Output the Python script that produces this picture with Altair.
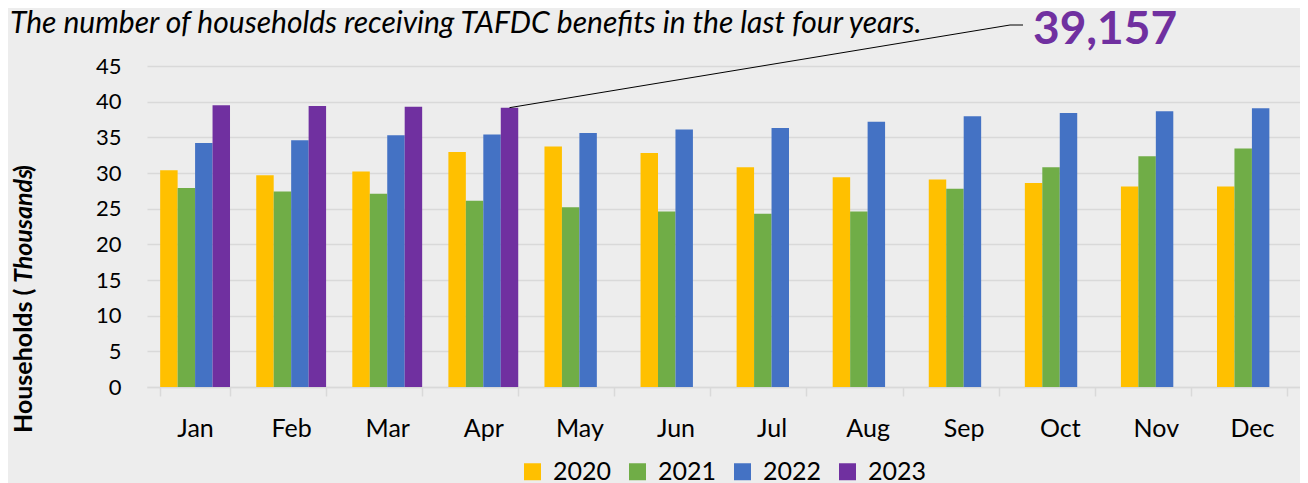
import altair as alt
import pandas as pd

months = ["Jan", "Feb", "Mar", "Apr", "May", "Jun", "Jul", "Aug", "Sep", "Oct", "Nov", "Dec"]
years = ["2020", "2021", "2022", "2023"]
colors = ["#FFC000", "#70AD47", "#4472C4", "#7030A0"]

v2020 = [30.4, 29.7, 30.2, 32.95, 33.7, 32.8, 30.8, 29.4, 29.1, 28.6, 28.1, 28.1]
v2021 = [27.9, 27.4, 27.1, 26.1, 25.2, 24.6, 24.3, 24.6, 27.8, 30.8, 32.35, 33.45]
v2022 = [34.2, 34.6, 35.3, 35.4, 35.6, 36.1, 36.3, 37.2, 37.95, 38.4, 38.65, 39.07]
v2023 = [39.5, 39.4, 39.3, 39.157, None, None, None, None, None, None, None, None]

title_text = "The number of households receiving TAFDC benefits in the last four years."
callout_text = "39,157"
callout_month = "Apr"
callout_year = "2023"
callout_value = 39.157
y_ticks = [0, 5, 10, 15, 20, 25, 30, 35, 40, 45]

rows = []
for yr, vals in zip(years, [v2020, v2021, v2022, v2023]):
    for m, v in zip(months, vals):
        if v is not None:
            rows.append({"month": m, "year": yr, "value": v})
df = pd.DataFrame(rows)

FONT = "Lato"
GRID = "#D9D9D9"

x_enc = alt.X("month:N", sort=months,
              scale=alt.Scale(domain=months, paddingInner=0.273, paddingOuter=0.137),
              axis=alt.Axis(title=None, labelAngle=0, labelFontSize=25, labelFont=FONT,
                            labelColor="black", labelPadding=20, tickBand="extent",
                            ticks=True, tickSize=9, tickColor=GRID, tickWidth=1.5,
                            domainColor=GRID, domainWidth=1.5, grid=False))
xo_enc = alt.XOffset("year:N", scale=alt.Scale(domain=years, paddingInner=0, paddingOuter=0))
y_enc = alt.Y("value:Q", scale=alt.Scale(domain=[0, 45], nice=False),
              axis=alt.Axis(title=None, values=y_ticks, labelFontSize=22,
                            labelFont=FONT, labelColor="black", labelPadding=26, labelOverlap=False,
                            domain=False, ticks=False, gridColor=GRID, gridWidth=1.5))

bars = alt.Chart(df).mark_bar().encode(
    x=x_enc, xOffset=xo_enc, y=y_enc,
    color=alt.Color("year:N", scale=alt.Scale(domain=years, range=colors),
                    legend=alt.Legend(orient="none", legendX=373, legendY=393, direction="horizontal",
                                      title=None, symbolType="square", symbolSize=289,
                                      symbolStrokeWidth=0, labelFontSize=25, labelFont=FONT,
                                      labelColor="black", labelOffset=8, columnPadding=13,
                                      padding=0, symbolOpacity=1)),
)

# callout leader line from the Apr 2023 bar top
lead_df = pd.DataFrame({"month": [callout_month], "year": [callout_year], "value": [callout_value]})
leader = alt.Chart(lead_df).mark_rule(color="black", strokeWidth=1).encode(
    x=x_enc, xOffset=xo_enc, y=y_enc,
    x2=alt.value(863),
    y2=alt.value(-41),
)
leader2 = alt.Chart(pd.DataFrame({"a": [0]})).mark_rule(color="black", strokeWidth=1).encode(
    x=alt.value(863), x2=alt.value(876), y=alt.value(-41),
)
callout = alt.Chart(pd.DataFrame({"t": [callout_text]})).mark_text(
    font=FONT, fontSize=46, fontWeight="bold", color="#7030A0", align="left", baseline="alphabetic"
).encode(x=alt.value(886), y=alt.value(-22), text="t:N")

title = alt.Chart(pd.DataFrame({"t": [title_text]})).mark_text(
    font=FONT, fontSize=30, fontStyle="italic", color="black", align="left", baseline="alphabetic"
).encode(x=alt.value(-137), y=alt.value(-33), text="t:N")

yt1 = alt.Chart(pd.DataFrame({"t": ["Households ("]})).mark_text(
    font=FONT, fontSize=25, fontWeight="bold", color="black", align="left", baseline="middle", angle=270
).encode(x=alt.value(-123), y=alt.value(367), text="t:N")
yt2 = alt.Chart(pd.DataFrame({"t": ["Thousands"]})).mark_text(
    font=FONT, fontSize=25, fontWeight="bold", fontStyle="italic", color="black", align="left",
    baseline="middle", angle=270
).encode(x=alt.value(-123), y=alt.value(217), text="t:N")
yt3 = alt.Chart(pd.DataFrame({"t": [")"]})).mark_text(
    font=FONT, fontSize=25, fontWeight="bold", color="black", align="left", baseline="middle", angle=270
).encode(x=alt.value(-123), y=alt.value(106), text="t:N")

chart = alt.layer(bars, leader, leader2, callout, title, yt1, yt2, yt3).properties(
    width=1153, height=321,
    autosize=alt.AutoSizeParams(type="none"),
    padding={"left": 139, "top": 58, "right": 0, "bottom": 96},
    background="#EDEDED",
).configure(font=FONT).configure_view(stroke=None).configure_axisY(labelOverlap=False)

chart.save("out.html", embed_options={"renderer": "svg", "actions": False})
